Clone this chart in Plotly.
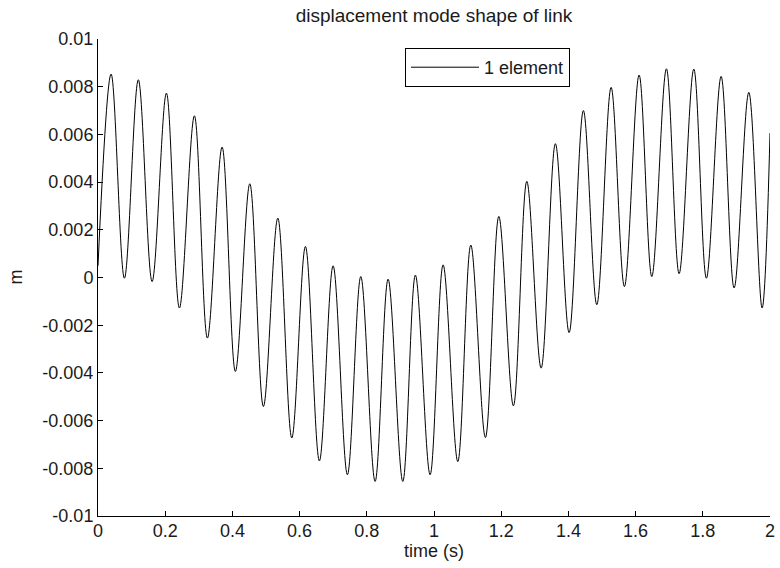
import plotly.graph_objects as go

# Extrema (and end points) of the displacement trace
time_s = [0.0, 0.039, 0.0786, 0.120, 0.161, 0.2036, 0.2423, 0.2869, 0.3256, 0.3693,
          0.4089, 0.4518, 0.4923, 0.5351, 0.5768, 0.6173, 0.6589, 0.6997, 0.7423,
          0.7821, 0.8247, 0.8634, 0.9071, 0.9446, 0.9884, 1.0271, 1.0708, 1.1095,
          1.1530, 1.1929, 1.2363, 1.2762, 1.3188, 1.3613, 1.4021, 1.4446, 1.4845,
          1.5271, 1.5667, 1.6104, 1.6482, 1.6917, 1.7295, 1.7732, 1.8107, 1.8545,
          1.8932, 1.9369, 1.9765, 2.0]
disp_m = [0.00049, 0.00853, -0.00003, 0.00829, -0.00017, 0.00773, -0.00128, 0.00678,
          -0.00254, 0.00547, -0.00394, 0.00393, -0.00541, 0.00249, -0.00673, 0.00130,
          -0.00769, 0.00049, -0.00827, 0.00004, -0.00855, -0.00007, -0.00855, 0.00010,
          -0.00827, 0.00053, -0.00772, 0.00136, -0.00671, 0.00256, -0.00538, 0.00403,
          -0.00380, 0.00561, -0.00231, 0.00700, -0.00114, 0.00797, -0.00038, 0.00849,
          0.00004, 0.00875, 0.00016, 0.00874, -0.00003, 0.00843, -0.00044, 0.00776,
          -0.00128, 0.00606]

x_tickvals = [0, 0.2, 0.4, 0.6, 0.8, 1.0, 1.2, 1.4, 1.6, 1.8, 2.0]
x_ticktext = ["0", "0.2", "0.4", "0.6", "0.8", "1", "1.2", "1.4", "1.6", "1.8", "2"]
y_tickvals = [0.01, 0.008, 0.006, 0.004, 0.002, 0, -0.002, -0.004, -0.006, -0.008, -0.01]
y_ticktext = ["0.01", "0.008", "0.006", "0.004", "0.002", "0", "-0.002", "-0.004",
              "-0.006", "-0.008", "-0.01"]

FONT = "Liberation Sans, Arial, sans-serif"
TXT = "#1a1a1a"

W, H = 780, 568
L, R, T, B = 98, 10, 39, 52
PW, PH = W - L - R, H - T - B

fig = go.Figure()
fig.add_trace(go.Scatter(
    x=time_s, y=disp_m, mode="lines", name="1 element",
    line=dict(color="black", width=1, shape="spline", smoothing=1.0),
))

fig.update_layout(
    width=W, height=H,
    margin=dict(l=L, r=R, t=T, b=B, autoexpand=False),
    paper_bgcolor="white", plot_bgcolor="white",
    font=dict(family=FONT, size=18, color=TXT),
    title=dict(text="displacement mode shape of link", x=0.5, xref="paper",
               xanchor="center", y=1 - 15 / H, yanchor="middle",
               font=dict(family=FONT, size=19, color=TXT)),
    showlegend=True,
    legend=dict(x=(405 - L) / PW, y=1 - (48 - T) / PH, xanchor="left", yanchor="top",
                bordercolor="black", borderwidth=1, bgcolor="white",
                itemwidth=68, font=dict(family=FONT, size=18, color=TXT),
                tracegroupgap=0),
    annotations=[
        dict(text="time (s)", xref="paper", yref="paper", x=0.5,
             y=-(551 - (T + PH)) / PH, xanchor="center", yanchor="middle",
             showarrow=False, font=dict(family=FONT, size=18, color=TXT)),
        dict(text="m", xref="paper", yref="paper", x=-(L - 15) / PW, y=0.5,
             xanchor="center", yanchor="middle", textangle=-90,
             showarrow=False, font=dict(family=FONT, size=18, color=TXT)),
    ],
)

fig.update_xaxes(
    range=[0, 2], tickmode="array", tickvals=x_tickvals, ticktext=x_ticktext,
    ticks="inside", ticklen=5, tickcolor="black", showline=True, linecolor="black",
    linewidth=1, mirror=False, showgrid=False, zeroline=False, automargin=False,
    tickfont=dict(size=18, color=TXT), ticklabelstandoff=-2,
)
fig.update_yaxes(
    range=[-0.01, 0.01], tickmode="array", tickvals=y_tickvals, ticktext=y_ticktext,
    ticks="inside", ticklen=5, tickcolor="black", showline=True, linecolor="black",
    linewidth=1, mirror=False, showgrid=False, zeroline=False, automargin=False,
    tickfont=dict(size=18, color=TXT),
)

fig.write_html(
    "out.html",
    config={"displayModeBar": False},
    post_script="document.body.style.margin='0';"
                "document.documentElement.style.overflow='hidden';",
)
